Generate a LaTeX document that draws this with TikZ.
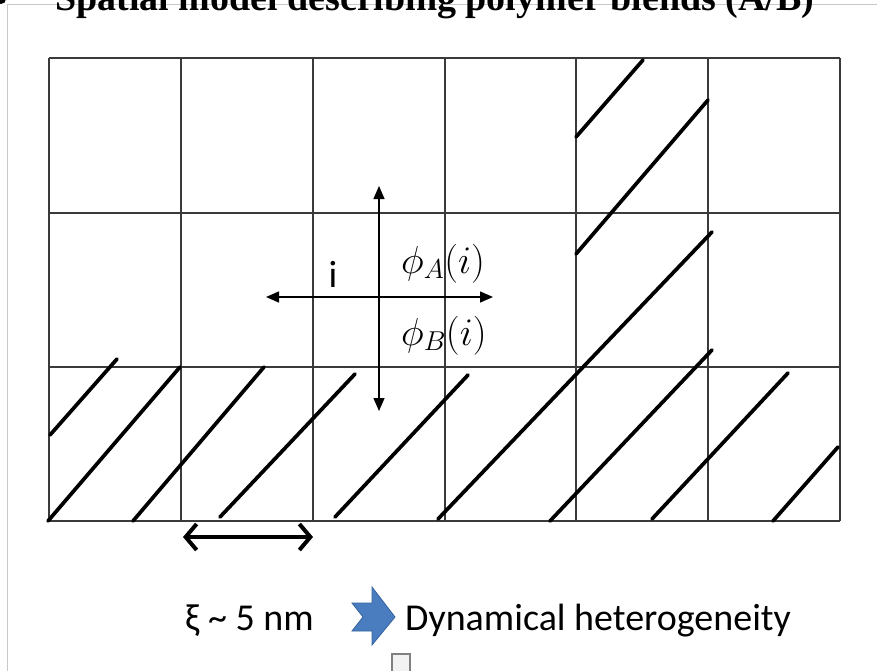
\RequirePackage{fix-cm}
\documentclass[tikz,border=0pt]{standalone}
\usepackage[no-math]{fontspec}
\setmainfont{Liberation Serif}
\newfontfamily\calib{Carlito}
\usetikzlibrary{arrows.meta}
\definecolor{gridc}{HTML}{3A3A3A}
\definecolor{framec}{HTML}{C8C8C8}
\definecolor{bluefill}{HTML}{4A7DC0}
\definecolor{blueedge}{HTML}{35619C}
\tikzset{
  gridline/.style={draw=gridc, line width=1.3pt},
  hatch/.style={draw=black, line width=3.7pt, line cap=round},
  cross/.style={draw=black, line width=1.4pt, {Triangle[length=13pt,width=11pt]}-{Triangle[length=13pt,width=11pt]}},
  span/.style={draw=black, line width=4pt, line cap=round, {Straight Barb[length=11pt,width=26pt,line width=4pt]}-{Straight Barb[length=11pt,width=26pt,line width=4pt]}},
  calibtext/.style={font=\calib\fontsize{38}{40}\selectfont, inner sep=0pt, anchor=base west},
  mathlabel/.style={font=\fontsize{39}{42}\selectfont, inner sep=0pt, anchor=base west},
}
\begin{document}
\begin{tikzpicture}[x=1pt,y=-1pt]
\useasboundingbox (0,0) rectangle (877,671);
\clip (0,0) rectangle (877,671);
\fill[white] (0,0) rectangle (877,671);
% slide frame lines
\draw[framec, line width=1pt] (877,5) -- (7,5) -- (7,671);
% bullet and title
\fill[black] (1,-1) circle (5);
\node[font=\bfseries\fontsize{38}{40}\selectfont, inner sep=0pt, anchor=base west] (title) at (55,11) {Spatial model describing polymer blends (A/B)};
% grid
\foreach \x in {49,181,313,445,576,708,840} \draw[gridline] (\x,58) -- (\x,521);
\foreach \y in {58,213,367,521} \draw[gridline] (49,\y) -- (840,\y);
% hatching
\draw[hatch] (50,435) -- (117,359);
\draw[hatch] (48,521) -- (180,367);
\draw[hatch] (133,521) -- (264,367);
\draw[hatch] (220,517) -- (355,374);
\draw[hatch] (335,517) -- (468,375);
\draw[hatch] (438,519) -- (712,232);
\draw[hatch] (550,521) -- (712,350);
\draw[hatch] (652,519) -- (788,373);
\draw[hatch] (773,521) -- (838,447);
\draw[hatch] (576,137) -- (643,60);
\draw[hatch] (576,254) -- (708,100);
% cross arrows
\coordinate (vt) at (379,186);
\coordinate (vb) at (379,411);
\coordinate (hl) at (266,297);
\coordinate (hr) at (493,297);
\draw[cross] (vt) -- (vb);
\draw[cross] (hl) -- (hr);
\node[calibtext, anchor=base] (ilab) at (333,287) {i};
\node[mathlabel] (phiA) at (401,273) {$\phi_A(i)$};
\node[mathlabel] (phiB) at (401,345) {$\phi_B(i)$};
% length arrow
\coordinate (sl) at (183,537);
\coordinate (sr) at (313,537);
\draw[span] (sl) -- (sr);
% bottom text
\node[calibtext] (xi) at (185,630) {ξ \string~ 5 nm};
\draw[blueedge, fill=bluefill, line width=0.8pt, line join=miter]
  (352,603) -- (372,603) -- (372,587) -- (395,617) -- (372,645) -- (372,631) -- (352,631) -- (363,617) -- cycle;
\node[calibtext] (dyn) at (405,630) {Dynamical heterogeneity};
% small box at bottom
\draw[gray, fill=white!95!black, line width=1.2pt] (392,675) -- (392,654) -- (410,654) -- (410,675);
\end{tikzpicture}
\end{document}
